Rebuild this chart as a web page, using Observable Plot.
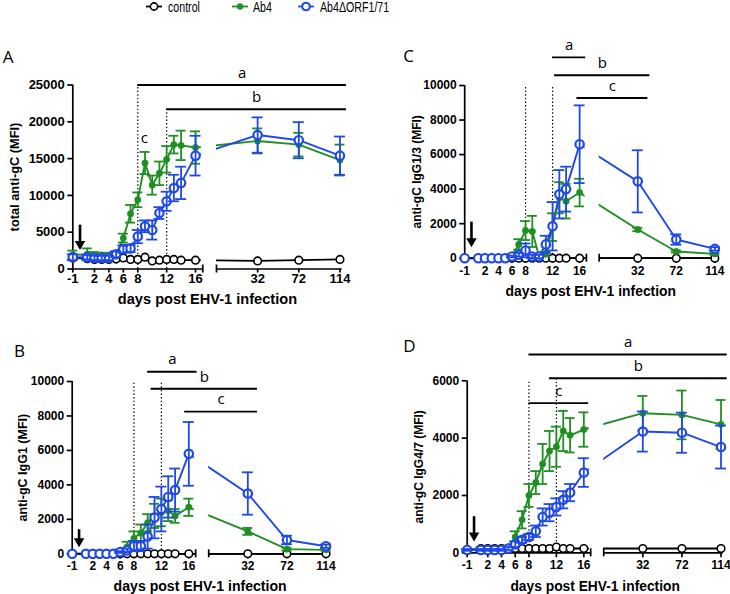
<!DOCTYPE html>
<html><head><meta charset="utf-8">
<script src="https://cdn.jsdelivr.net/npm/d3@7"></script>
<script src="https://cdn.jsdelivr.net/npm/@observablehq/plot@0.6"></script>
<style>
body{margin:0;background:#fff;}
#root{position:relative;width:730px;height:594px;overflow:hidden;background:#fff;}
.panel{position:absolute;}
.lg{position:absolute;top:0px;font-family:"Liberation Sans",Arial,sans-serif;font-size:14px;line-height:14px;color:#000;white-space:nowrap;transform:scaleX(0.76);transform-origin:0 0;}
.lgm{position:absolute;top:0;}
</style></head><body><div id="root"></div>
<script>
// ---------- data ----------
const days = [-1,1,2,3,4,5,6,7,8,9,10,11,12,13,14,16,32,72,114];
const lateDays = [32,72,114];
const xTickDays = [-1,2,4,6,8,12,16,32,72,114];
const seriesNames = ["control","Ab4","Ab4ΔORF1/71"];
const xTitle = "days post EHV-1 infection";

// Panel A: total anti-gC (MFI)
const totalTicks = [0,5000,10000,15000,20000,25000];
const totalControl = [1500,1400,1300,1300,1300,1350,1500,1300,1300,1600,1100,1200,1300,1300,1200,1200,1100,1200,1300];
const totalAb4     = [1900,2000,1900,1900,1900,2000,4200,7500,9400,14400,11400,13000,14900,16900,16800,16500,17400,16900,14800];
const totalAb4Err  = [600,800,400,300,300,400,600,1200,1000,1500,1300,1600,1800,1200,2000,2200,1700,1600,2100];
const totalMut     = [1600,1600,1500,1500,1500,2000,2700,2800,4400,5800,5300,7600,9200,11000,11700,15400,18200,17500,15400];
const totalMutErr  = [400,300,300,300,300,400,500,500,900,800,1300,800,1300,1800,2200,2700,2400,2450,2600];

// Panel B: anti-gC IgG1 (MFI)
const igg1Ticks = [0,2000,4000,6000,8000,10000];
const igg1Control = [0,0,0,0,0,0,0,0,0,0,0,0,0,0,0,0,0,0,0];
const igg1Ab4     = [0,0,0,0,0,50,150,400,900,1200,1800,2200,2400,2500,2200,2700,1300,270,230];
const igg1Ab4Err  = [0,0,0,0,0,50,100,300,400,500,500,700,800,600,400,500,200,80,50];
const igg1Mut     = [0,0,0,0,0,0,100,200,450,450,1000,2100,2600,3300,3700,5800,3500,800,440];
const igg1MutErr  = [0,0,0,0,0,0,50,100,300,300,700,1200,1300,1200,1250,1850,1230,250,100];

// Panel C: anti-gC IgG1/3 (MFI)
const igg13Ticks = [0,2000,4000,6000,8000,10000];
const igg13Control = [0,0,0,0,0,0,0,0,0,0,0,0,0,0,0,0,0,0,0];
const igg13Ab4     = [0,0,0,0,0,0,100,800,1600,1550,100,250,1800,3500,3300,3800,1660,390,250];
const igg13Ab4Err  = [0,0,0,0,0,0,50,300,550,900,100,150,800,900,1000,800,100,60,50];
const igg13Mut     = [0,0,0,0,0,0,100,200,450,100,100,800,1850,3700,4000,6600,4450,1080,540];
const igg13MutErr  = [0,0,0,0,0,0,50,100,400,100,100,500,1400,1400,1300,2250,1800,300,100];

// Panel D: anti-gC IgG4/7 (MFI)
const igg47Ticks = [0,2000,4000,6000];
const igg47Control = [100,150,150,150,150,150,150,150,150,150,150,150,200,150,150,150,150,150,150];
const igg47Ab4     = [100,150,150,150,150,200,550,1150,2000,2450,3100,3550,3700,4250,4100,4300,4870,4810,4480];
const igg47Ab4Err  = [30,50,50,50,50,50,200,300,400,400,700,700,700,700,600,600,600,850,850];
const igg47Mut     = [100,100,100,100,100,150,300,450,550,750,1250,1400,1600,1850,2100,2800,4230,4190,3690];
const igg47MutErr  = [30,30,30,30,30,50,100,100,100,200,300,300,300,300,300,500,700,700,750];

// annotations (significance bars, dotted day markers, infection arrow)
const totalSig = [{label:"a", from:8, to:36.9, y:25000},{label:"b", from:12, to:36.9, y:21700}];
const totalExtra = [{label:"c", at:8.9, y:17800}];
const totalDotted = [{day:8, top:25000},{day:12, top:21700}];
const totalArrow = [{day:0, top:5960, tip:2600}];

const igg1Sig = [{label:"a", from:10, to:17.2, y:10570},{label:"b", from:10.5, to:26.0, y:9580},{label:"c", from:15.4, to:26.0, y:8250}];
const igg1Dotted = [{day:8, top:10000},{day:12, top:10000}];
const igg1Arrow = [{day:0, top:1400, tip:390}];

const igg13Sig = [{label:"a", from:12, to:16.9, y:11630},{label:"b", from:12.3, to:26.4, y:10590},{label:"c", from:15.6, to:26.1, y:9275}];
const igg13Dotted = [{day:8, top:10000},{day:12, top:10000}];
const igg13Arrow = [{day:0, top:2090, tip:640}];

const igg47Sig = [{label:"a", from:8, to:36.9, y:6920},{label:"b", from:11, to:36.9, y:6090},{label:"c", from:8, to:16.7, y:5220}];
const igg47Dotted = [{day:8, top:6010},{day:12, top:6090}];
const igg47Arrow = [{day:0, top:1260, tip:400}];

// ---------- layout ----------
const COLORS = {control:"#000000", ab4:"#1f8f23", mut:"#1f49e6"};
const FONT = "'Liberation Sans', Arial, sans-serif";
const layout = {
  xDomain: [-1, 37.2],
  latePos: [24.6, 30.3, 36.0],
  axisSegs: [{x1:-1, x2:17.0}, {x1:18.9, x2:36.3}],
  breakCaps: [17.0, 18.9],
  gap: [16.8, 18.9]
};
function pos(day){ const i = lateDays.indexOf(day); return i >= 0 ? layout.latePos[i] : day; }

const panels = [
  {letter:"A", title:"total anti-gC (MFI)", box:[0,20,365,290], x0:72.3, ppu:7.22, y0:268.5, yTop:84.5,
   fs:13, yfs:12.8, xfs:14.6, tickSize:4, tickPad:1, yTitleDx:-57.8, xTitleDy:30.5, letterDx:-64.8, letterDy:-27,
   ticks:totalTicks, control:totalControl, ab4:totalAb4, ab4Err:totalAb4Err, mut:totalMut, mutErr:totalMutErr,
   sig:totalSig, extra:totalExtra, dotted:totalDotted, arrow:totalArrow},
  {letter:"B", title:"anti-gC IgG1 (MFI)", box:[0,310,365,284], x0:71.7, ppu:6.86, y0:553.3, yTop:381,
   fs:12, yfs:12.5, xfs:14.1, tickSize:5, tickPad:3, yTitleDx:-49.2, xTitleDy:32.7, letterDx:-52.7, letterDy:-30,
   ticks:igg1Ticks, control:igg1Control, ab4:igg1Ab4, ab4Err:igg1Ab4Err, mut:igg1Mut, mutErr:igg1MutErr,
   sig:igg1Sig, extra:[], dotted:igg1Dotted, arrow:igg1Arrow},
  {letter:"C", title:"anti-gC IgG1/3 (MFI)", box:[365,20,365,290], x0:464.2, ppu:6.76, y0:257.7, yTop:85,
   fs:12, yfs:12, xfs:13.9, tickSize:5, tickPad:3, yTitleDx:-48, xTitleDy:33.3, letterDx:-56, letterDy:-28.5,
   ticks:igg13Ticks, control:igg13Control, ab4:igg13Ab4, ab4Err:igg13Ab4Err, mut:igg13Mut, mutErr:igg13MutErr,
   sig:igg13Sig, extra:[], dotted:igg13Dotted, arrow:igg13Arrow},
  {letter:"D", title:"anti-gC IgG4/7 (MFI)", box:[365,310,365,284], x0:466.7, ppu:6.86, y0:552.3, yTop:380.3,
   fs:12, yfs:12, xfs:13.8, tickSize:5, tickPad:3, yTitleDx:-47.7, xTitleDy:33.7, letterDx:-57.7, letterDy:-33.8,
   ticks:igg47Ticks, control:igg47Control, ab4:igg47Ab4, ab4Err:igg47Ab4Err, mut:igg47Mut, mutErr:igg47MutErr,
   sig:igg47Sig, extra:[], dotted:igg47Dotted, arrow:igg47Arrow}
];

const tickLabelMap = new Map(xTickDays.map(d => [pos(d), String(d)]));

function makePanel(c){
  const [bx, by, bw, bh] = c.box;
  const [xd0, xd1] = layout.xDomain;
  const mL = c.x0 - bx, mT = c.yTop - by, mB = bh - (c.y0 - by);
  const mR = Math.max(0, bw - mL - (xd1 - xd0) * c.ppu);
  const yMax = c.ticks[c.ticks.length - 1];
  const rows = (vals, errs) => days.map((day, i) => ({pos: pos(day), v: vals[i], e: errs ? errs[i] : 0}));
  const ctrl = rows(c.control), ab4 = rows(c.ab4, c.ab4Err), mut = rows(c.mut, c.mutErr);
  const errMarks = (r, color, half) => {
    const f = r.filter(q => q.e > 0);
    return [
      Plot.ruleX(f, {x:"pos", y1:q => q.v - q.e, y2:q => q.v + q.e, stroke:color, strokeWidth:1.8}),
      Plot.ruleY(f, {x1:"pos", x2:"pos", y:q => q.v + q.e, stroke:color, strokeWidth:1.8, insetLeft:-half, insetRight:-half}),
      Plot.ruleY(f, {x1:"pos", x2:"pos", y:q => q.v - q.e, stroke:color, strokeWidth:1.8, insetLeft:-half, insetRight:-half})
    ];
  };
  const axisMid = (layout.axisSegs[0].x1 + layout.axisSegs[1].x2) / 2;
  const svg = Plot.plot({
    width: bw, height: bh,
    marginLeft: mL, marginRight: mR, marginTop: mT, marginBottom: mB,
    x: {domain: layout.xDomain},
    y: {domain: [0, yMax]},
    style: {fontFamily:FONT, fontWeight:"bold", fontSize: c.fs + "px", background:"transparent", overflow:"visible"},
    marks: [
      // dotted day markers
      Plot.ruleX(c.dotted, {x:"day", y1:() => 0, y2:"top", stroke:"#000", strokeWidth:1.2, strokeDasharray:"1.4,2.2"}),
      // series lines
      Plot.line(ctrl, {x:"pos", y:"v", stroke:COLORS.control, strokeWidth:1.8}),
      Plot.line(ab4, {x:"pos", y:"v", stroke:COLORS.ab4, strokeWidth:1.9}),
      Plot.line(mut, {x:"pos", y:"v", stroke:COLORS.mut, strokeWidth:1.9}),
      // axis break gap
      Plot.rect([{x1:layout.gap[0], x2:layout.gap[1]}], {x1:"x1", x2:"x2", y1:() => 0, y2:() => yMax, fill:"white", insetBottom:-4, insetTop:-4}),
      // axes
      Plot.ruleY(layout.axisSegs, {x1:"x1", x2:"x2", y:() => 0, stroke:"#000", strokeWidth:1.7}),
      Plot.ruleX(layout.breakCaps, {x:d => d, y1:() => 0, y2:() => 0, stroke:"#000", strokeWidth:1.7, insetTop:-4, insetBottom:-4}),
      Plot.ruleX([-1], {x:d => d, y1:() => 0, y2:() => yMax, stroke:"#000", strokeWidth:1.7}),
      Plot.axisY({ticks:c.ticks, tickFormat:d => String(d), tickSize:5, tickPadding:3, strokeWidth:1.7, label:null, fontSize:c.fs, fontWeight:"bold", fontFamily:FONT, fill:"#000"}),
      Plot.axisX({ticks:xTickDays.map(pos), tickFormat:p => tickLabelMap.get(p), tickSize:c.tickSize, tickPadding:c.tickPad, strokeWidth:1.7, label:null, fontSize:c.fs, fontWeight:"bold", fontFamily:FONT, fill:"#000"}),
      // markers
      Plot.dot(ctrl, {x:"pos", y:"v", r:3.8, fill:"white", stroke:COLORS.control, strokeWidth:1.6}),
      Plot.dot(ab4, {x:"pos", y:"v", r:3.2, fill:COLORS.ab4, stroke:COLORS.ab4, strokeWidth:0.5}),
      ...errMarks(ab4, COLORS.ab4, 5),
      Plot.dot(mut, {x:"pos", y:"v", r:4.2, fill:"white", stroke:COLORS.mut, strokeWidth:2.2}),
      ...errMarks(mut, COLORS.mut, 5.5),
      // infection arrow
      Plot.ruleX(c.arrow, {x:"day", y1:"top", y2:"tip", stroke:"#000", strokeWidth:2.6, insetBottom:6}),
      Plot.dot(c.arrow, {x:"day", y:"tip", symbol:"triangle", r:3.9, fill:"#000", stroke:"none", rotate:180, dy:-5.9}),
      // significance bars
      Plot.ruleY(c.sig, {x1:"from", x2:"to", y:"y", stroke:"#000", strokeWidth:1.9}),
      Plot.text(c.sig, {x:d => (d.from + d.to) / 2, y:"y", text:"label", dy:-12, fontFamily:"'Open Sans', sans-serif", fontWeight:"normal", fontSize:15, fill:"#000"}),
      Plot.text(c.extra, {x:"at", y:"y", text:"label", fontFamily:"'Open Sans', sans-serif", fontWeight:"normal", fontSize:15, fill:"#000"}),
      // titles
      Plot.text([c.title], {x:() => -1, y:() => yMax / 2, text:d => d, rotate:-90, dx:c.yTitleDx, fontSize:c.yfs, fontWeight:"bold", fontFamily:FONT, fill:"#000"}),
      Plot.text([xTitle], {x:() => axisMid, y:() => 0, text:d => d, dy:c.xTitleDy, fontSize:c.xfs, fontWeight:"bold", fontFamily:FONT, fill:"#000"}),
      Plot.text([c.letter], {x:() => -1, y:() => yMax, text:d => d, dx:c.letterDx, dy:c.letterDy, fontFamily:"'Open Sans', sans-serif", fontWeight:"normal", fontSize:17, fill:"#000"})
    ]
  });
  svg.classList.add("panel");
  svg.style.left = bx + "px";
  svg.style.top = by + "px";
  return svg;
}

const root = document.getElementById("root");
for (const c of panels) root.appendChild(makePanel(c));

// legend
const legendItems = [
  {name:seriesNames[0], color:COLORS.control, fill:"white", r:3.6, sw:1.6, mx:145, tx:168},
  {name:seriesNames[1], color:COLORS.ab4, fill:COLORS.ab4, r:3.0, sw:0.5, mx:231, tx:253},
  {name:seriesNames[2], color:COLORS.mut, fill:"white", r:3.8, sw:2.1, mx:297, tx:320}
];
for (const it of legendItems) {
  const m = document.createElementNS("http://www.w3.org/2000/svg", "svg");
  m.setAttribute("width", 18); m.setAttribute("height", 13);
  m.setAttribute("class", "lgm");
  m.style.left = it.mx + "px";
  m.innerHTML = `<line x1="1" x2="17" y1="6.5" y2="6.5" stroke="${it.color}" stroke-width="1.8"/>` +
    `<circle cx="9" cy="6.5" r="${it.r}" fill="${it.fill}" stroke="${it.color}" stroke-width="${it.sw}"/>`;
  root.appendChild(m);
  const t = document.createElement("div");
  t.className = "lg"; t.style.left = it.tx + "px"; t.textContent = it.name;
  root.appendChild(t);
}
</script></body></html>
